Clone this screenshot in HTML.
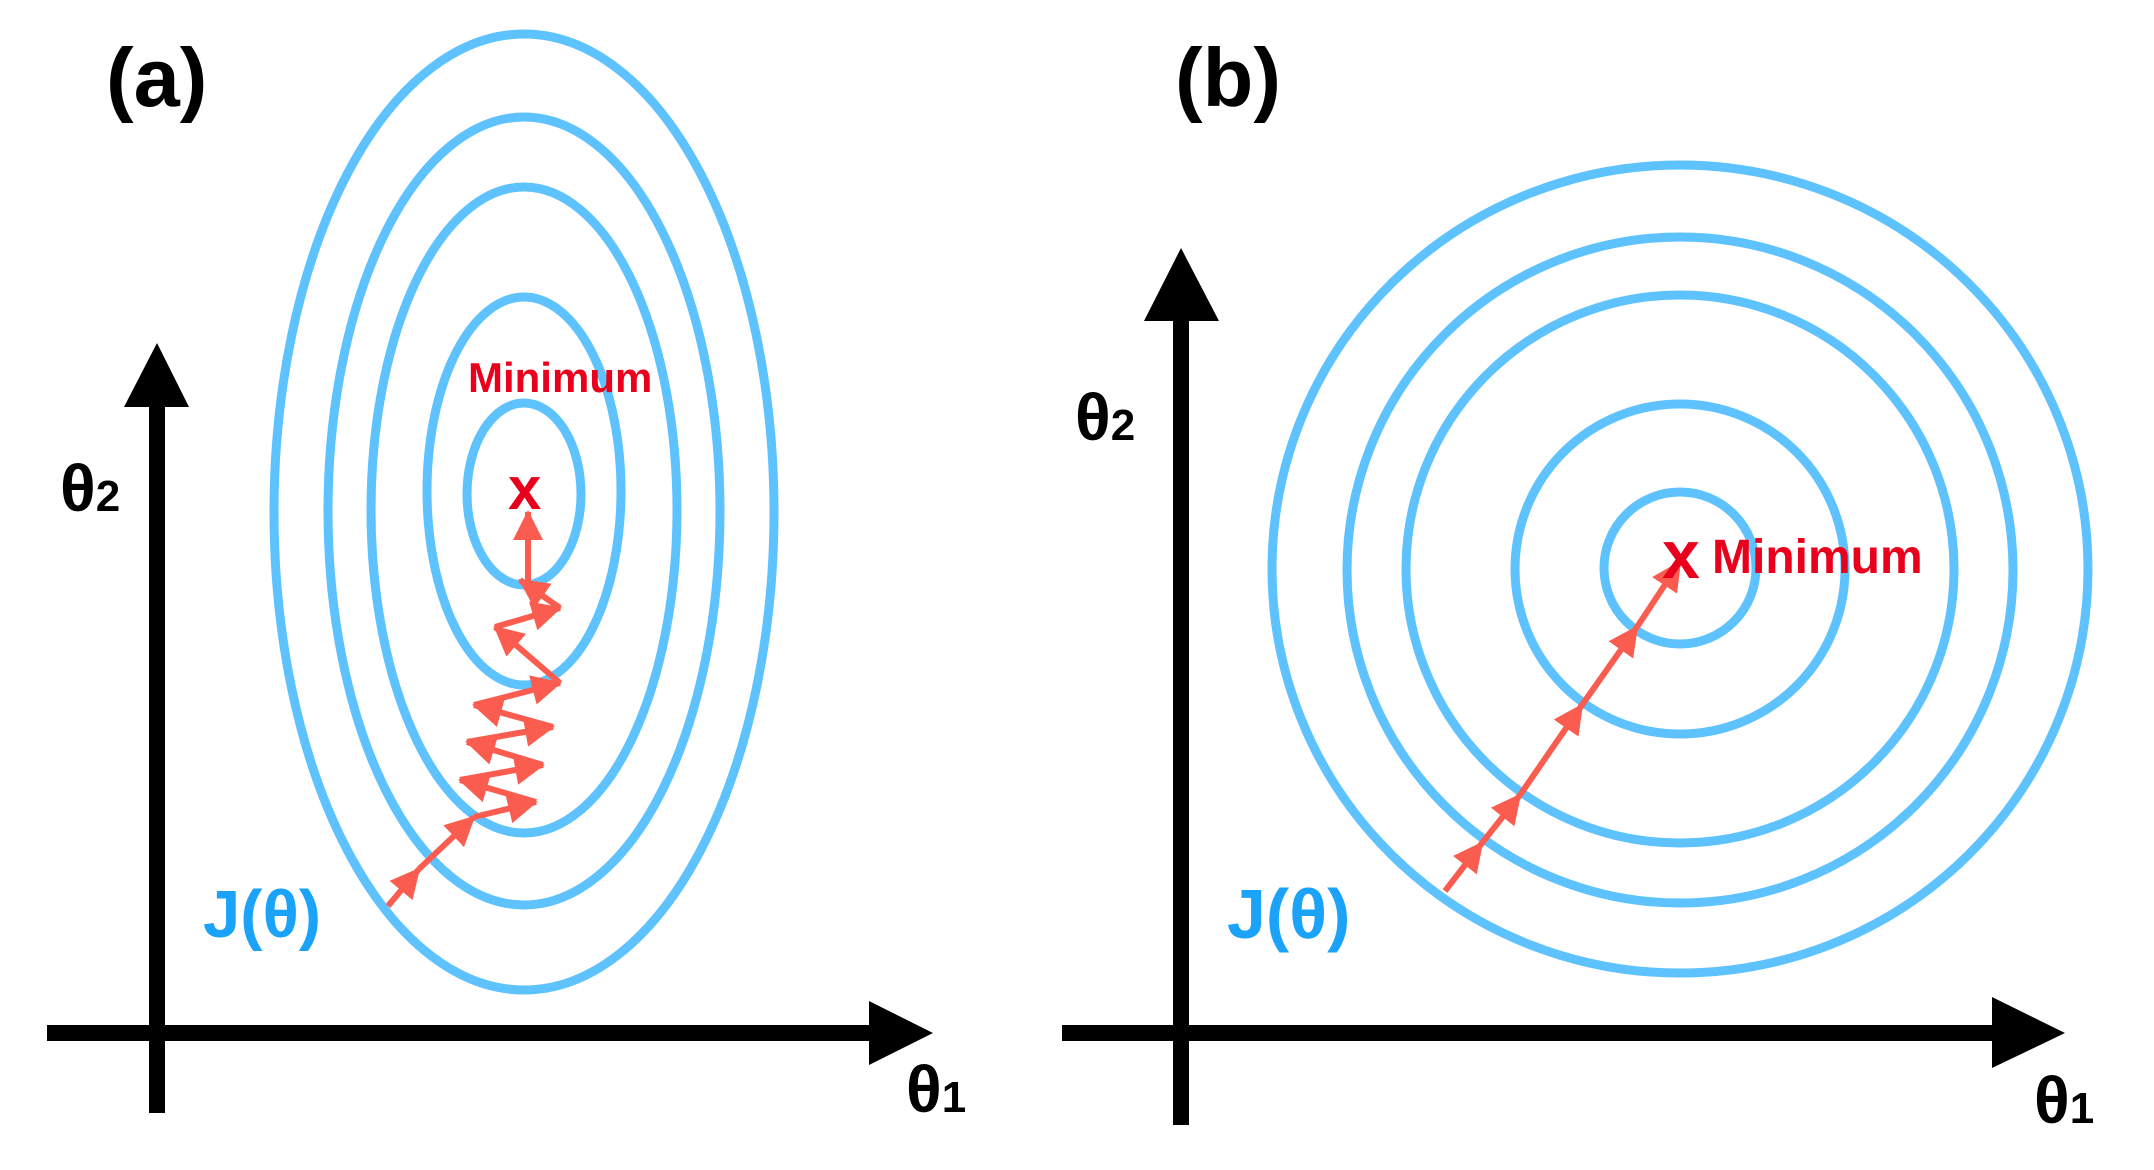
<!DOCTYPE html>
<html><head><meta charset="utf-8"><style>html,body{margin:0;padding:0;background:#fff}svg{display:block}</style></head>
<body>
<svg width="2154" height="1170" viewBox="0 0 2154 1170" xmlns="http://www.w3.org/2000/svg" font-family="Liberation Sans, Arial, sans-serif" font-weight="bold">
<defs>
<marker id="ra" markerUnits="userSpaceOnUse" markerWidth="34" markerHeight="34" refX="28" refY="15" orient="auto">
<path d="M0,0 L30,15 L0,30 Z" fill="#fa5d4f"/>
</marker>
</defs>
<g fill="none" stroke="#5ec2ff" stroke-width="9">
<ellipse cx="524" cy="512" rx="250" ry="478"/>
<ellipse cx="524" cy="511" rx="196" ry="394"/>
<ellipse cx="524" cy="510" rx="153" ry="323"/>
<ellipse cx="524" cy="491" rx="97" ry="194"/>
<ellipse cx="524" cy="494" rx="57" ry="91"/>
</g>
<g fill="#000">
<rect x="149" y="400" width="16" height="713"/>
<path d="M124,407 L157,343 L189,407 Z"/>
<rect x="47" y="1025" width="826" height="16"/>
<path d="M869,1001 L933,1033 L869,1065 Z"/>
</g>
<g stroke="#fa5d4f" stroke-width="6" fill="none" marker-end="url(#ra)">
<line x1="388" y1="906" x2="419" y2="869"/>
<line x1="419" y1="869" x2="474" y2="817"/>
<line x1="474" y1="817" x2="536" y2="802"/>
<line x1="536" y1="802" x2="460" y2="780"/>
<line x1="460" y1="780" x2="543" y2="765"/>
<line x1="543" y1="765" x2="467" y2="742"/>
<line x1="467" y1="742" x2="553" y2="727"/>
<line x1="553" y1="727" x2="474" y2="705"/>
<line x1="474" y1="705" x2="560" y2="683"/>
<line x1="560" y1="683" x2="495" y2="627"/>
<line x1="495" y1="627" x2="560" y2="608"/>
<line x1="560" y1="608" x2="520" y2="580"/>
<line x1="528" y1="582" x2="528" y2="512"/>
</g>
<text x="106" y="106" font-size="83" fill="#000">(a)</text>
<text x="60" y="511" font-size="66" fill="#000">θ<tspan font-size="44">2</tspan></text>
<text x="906" y="1112" font-size="66" fill="#000">θ<tspan font-size="44">1</tspan></text>
<text x="203" y="937" font-size="67" fill="#1aa3f8">J(θ)</text>
<text x="468" y="392" font-size="42" fill="#e8001c">Minimum</text>
<text x="508" y="509" font-size="60" fill="#e8001c">x</text>

<g fill="none" stroke="#5ec2ff" stroke-width="9">
<ellipse cx="1680" cy="569" rx="408" ry="404"/>
<ellipse cx="1680" cy="570" rx="333" ry="333"/>
<ellipse cx="1680" cy="569" rx="274" ry="274"/>
<ellipse cx="1680" cy="569" rx="165" ry="165"/>
<ellipse cx="1680" cy="568" rx="76" ry="76"/>
</g>
<g fill="#000">
<rect x="1173" y="314" width="16" height="811"/>
<path d="M1144,321 L1181,248 L1219,321 Z"/>
<rect x="1062" y="1025" width="934" height="16"/>
<path d="M1992,997 L2065,1033 L1992,1068 Z"/>
</g>
<g stroke="#fa5d4f" stroke-width="6" fill="none" marker-end="url(#ra)">
<line x1="1445" y1="891" x2="1482" y2="843"/>
<line x1="1482" y1="843" x2="1520" y2="795"/>
<line x1="1520" y1="795" x2="1582" y2="705"/>
<line x1="1582" y1="705" x2="1637" y2="627"/>
<line x1="1637" y1="627" x2="1680" y2="562"/>
</g>
<text x="1175" y="106" font-size="83" fill="#000">(b)</text>
<text x="1075" y="440" font-size="66" fill="#000">θ<tspan font-size="44">2</tspan></text>
<text x="2034" y="1123" font-size="66" fill="#000">θ<tspan font-size="44">1</tspan></text>
<text x="1227" y="938" font-size="70" fill="#1aa3f8">J(θ)</text>
<text x="1662" y="578" font-size="68" fill="#e8001c">x</text>
<text x="1712" y="573" font-size="48" fill="#e8001c">Minimum</text>
</svg>
</body></html>
